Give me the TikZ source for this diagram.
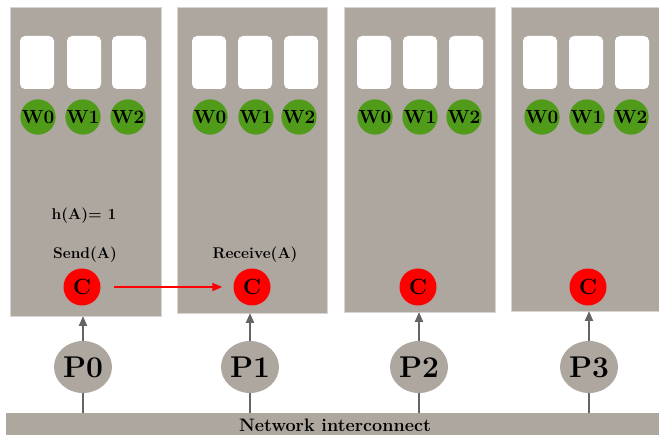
\documentclass[tikz,border=0pt]{standalone}
\usetikzlibrary{arrows.meta,shapes.geometric}
\definecolor{panelgray}{RGB}{173,167,160}
\definecolor{panelrim}{RGB}{216,212,208}
\definecolor{workgreen}{RGB}{80,155,26}
\definecolor{linkgray}{RGB}{100,100,100}
\begin{document}
\begin{tikzpicture}[x=1pt,y=-1pt,
  panel/.style={fill=panelgray,draw=panelrim,line width=0.8pt},
  slot/.style={fill=white,rounded corners=5pt},
  worker/.style={circle,fill=workgreen,minimum size=35pt,inner sep=0pt,
    font=\fontsize{19}{19}\selectfont\bfseries},
  comm/.style={circle,fill=red,minimum size=37pt,inner sep=0pt,
    font=\fontsize{22}{22}\selectfont\bfseries},
  proc/.style={ellipse,fill=panelgray,minimum width=58pt,minimum height=52pt,
    inner sep=0pt,font=\fontsize{30}{30}\selectfont\bfseries},
  lbl/.style={font=\fontsize{15.5}{15.5}\selectfont\bfseries},
  uplink/.style={draw=linkgray,line width=2.2pt,-{Triangle[length=10pt,width=8pt]}},
  downlink/.style={draw=linkgray,line width=2.2pt},
  msg/.style={draw=red,line width=1.8pt,-{Triangle[length=10pt,width=8pt]}}]
\useasboundingbox (0,0) rectangle (659,435);

% node panels
\path[panel] (10,7) rectangle (161,316);
\path[panel] (177,7) rectangle (327,313);
\path[panel] (344,7) rectangle (495,312);
\path[panel] (511,7) rectangle (660,311);
\coordinate (b0) at (83,316);
\coordinate (b1) at (250,313);
\coordinate (b2) at (419,312);
\coordinate (b3) at (589,311);

% buffer slots
\foreach \x in {20,67,112,192,238,284,357,403,449,523,569,615}
  \path[slot] (\x,36) rectangle ++(34,53);

% worker threads
\foreach \p/\a/\b/\c in {0/38/83/128,1/210/256/299,2/375/420/464,3/542/587/631}{
  \node[worker] (w\p0) at (\a,117) {W0};
  \node[worker] (w\p1) at (\b,117) {W1};
  \node[worker] (w\p2) at (\c,117) {W2};
}

% communication threads
\node[comm] (c0) at (82,287) {C};
\node[comm] (c1) at (252,287) {C};
\node[comm] (c2) at (418,287) {C};
\node[comm] (c3) at (588,287) {C};

\node[lbl] (hash) at (84,216) {h(A)= 1};
\node[lbl] (send) at (85,255) {Send(A)};
\node[lbl] (recv) at (255,255) {Receive(A)};

\draw[msg] ([xshift=13pt]c0.east) -- ([xshift=-11pt]c1.west);

% network bar
\path[fill=panelgray] (6,413) rectangle (660,436);
\node[font=\fontsize{18}{18}\selectfont\bfseries] (net) at (335,425) {Network interconnect};

% processes
\node[proc] (p0) at (83,367) {P0};
\node[proc] (p1) at (250,367) {P1};
\node[proc] (p2) at (419,367) {P2};
\node[proc] (p3) at (589,367) {P3};

\foreach \i in {0,1,2,3}{
  \draw[uplink] (p\i.north) -- (b\i);
  \coordinate (n\i) at (p\i.south |- 0,413);
  \draw[downlink] (p\i.south) -- (n\i);
}
\end{tikzpicture}
\end{document}
